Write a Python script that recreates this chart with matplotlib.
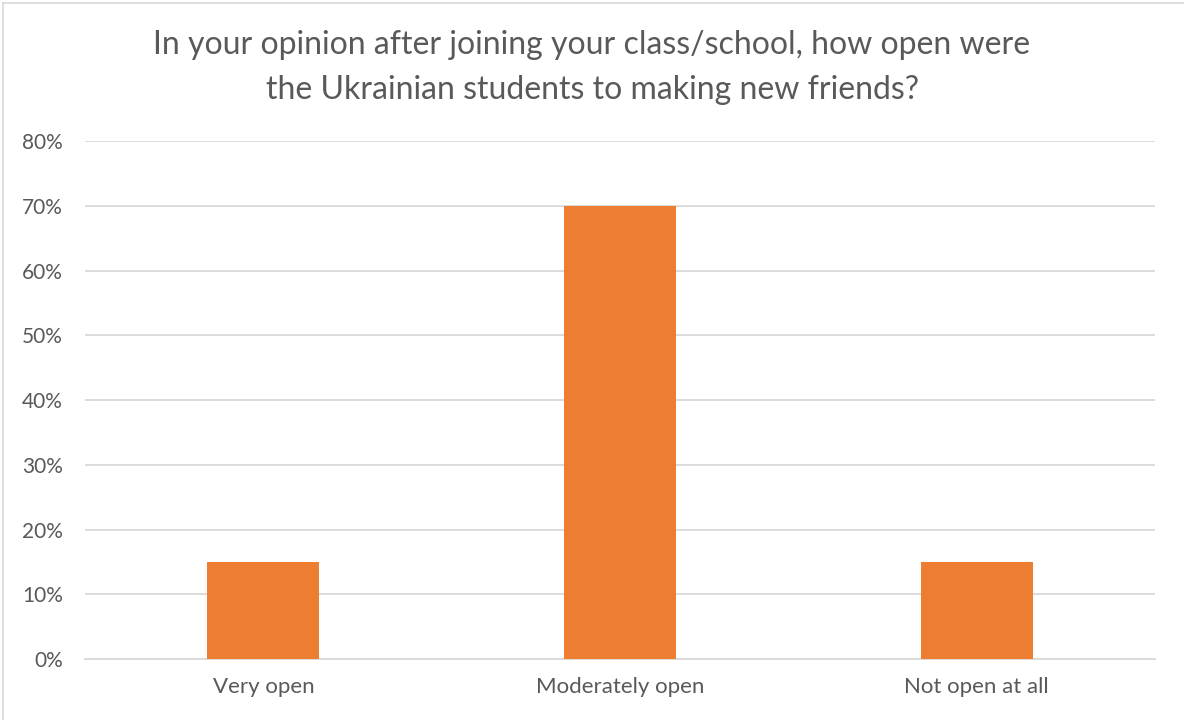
import matplotlib.pyplot as plt
from matplotlib.lines import Line2D
from matplotlib.ticker import PercentFormatter

plt.rcParams["font.family"] = ["Lato", "DejaVu Sans"]

# Survey responses
categories = ["Very open", "Moderately open", "Not open at all"]
shares = [0.15, 0.70, 0.15]
y_ticks = [0.0, 0.1, 0.2, 0.3, 0.4, 0.5, 0.6, 0.7, 0.8]

TEXT = "#595959"
GRID = "#D9D9D9"
BAR = "#ED7D31"

fig = plt.figure(figsize=(11.84, 7.2), dpi=100)
ax = fig.add_axes([0.0718, 0.0847, 0.9037, 0.7193])

ax.bar(range(len(categories)), shares, width=0.314, color=BAR, zorder=3)

ax.set_xlim(-0.5, len(categories) - 0.5)
ax.set_ylim(0, 0.8)
ax.set_yticks(y_ticks)
ax.yaxis.set_major_formatter(PercentFormatter(1.0, decimals=0))
ax.set_xticks(range(len(categories)))
ax.set_xticklabels(categories)

ax.grid(axis="y", color=GRID, linewidth=1.3, zorder=0)
for side in ["top", "right", "left"]:
    ax.spines[side].set_visible(False)
ax.spines["bottom"].set_color(GRID)
ax.spines["bottom"].set_linewidth(1.3)

ax.tick_params(axis="y", length=0, pad=16, labelsize=15, labelcolor=TEXT)
ax.tick_params(axis="x", length=0, pad=13, labelsize=16, labelcolor=TEXT)

fig.text(0.5, 0.9375, "In your opinion after joining your class/school, how open were",
         ha="center", va="center", fontsize=23, color=TEXT)
fig.text(0.5, 0.8745, "the Ukrainian students to making new friends?",
         ha="center", va="center", fontsize=23, color=TEXT)

# chart frame edges
fig.add_artist(Line2D([0.0025, 0.0025], [0, 0.996], transform=fig.transFigure,
                      color="#D9D9D9", linewidth=1.2))
fig.add_artist(Line2D([0.0025, 1], [0.996, 0.996], transform=fig.transFigure,
                      color="#D9D9D9", linewidth=1.2))

fig.savefig("out.png", dpi=100)
